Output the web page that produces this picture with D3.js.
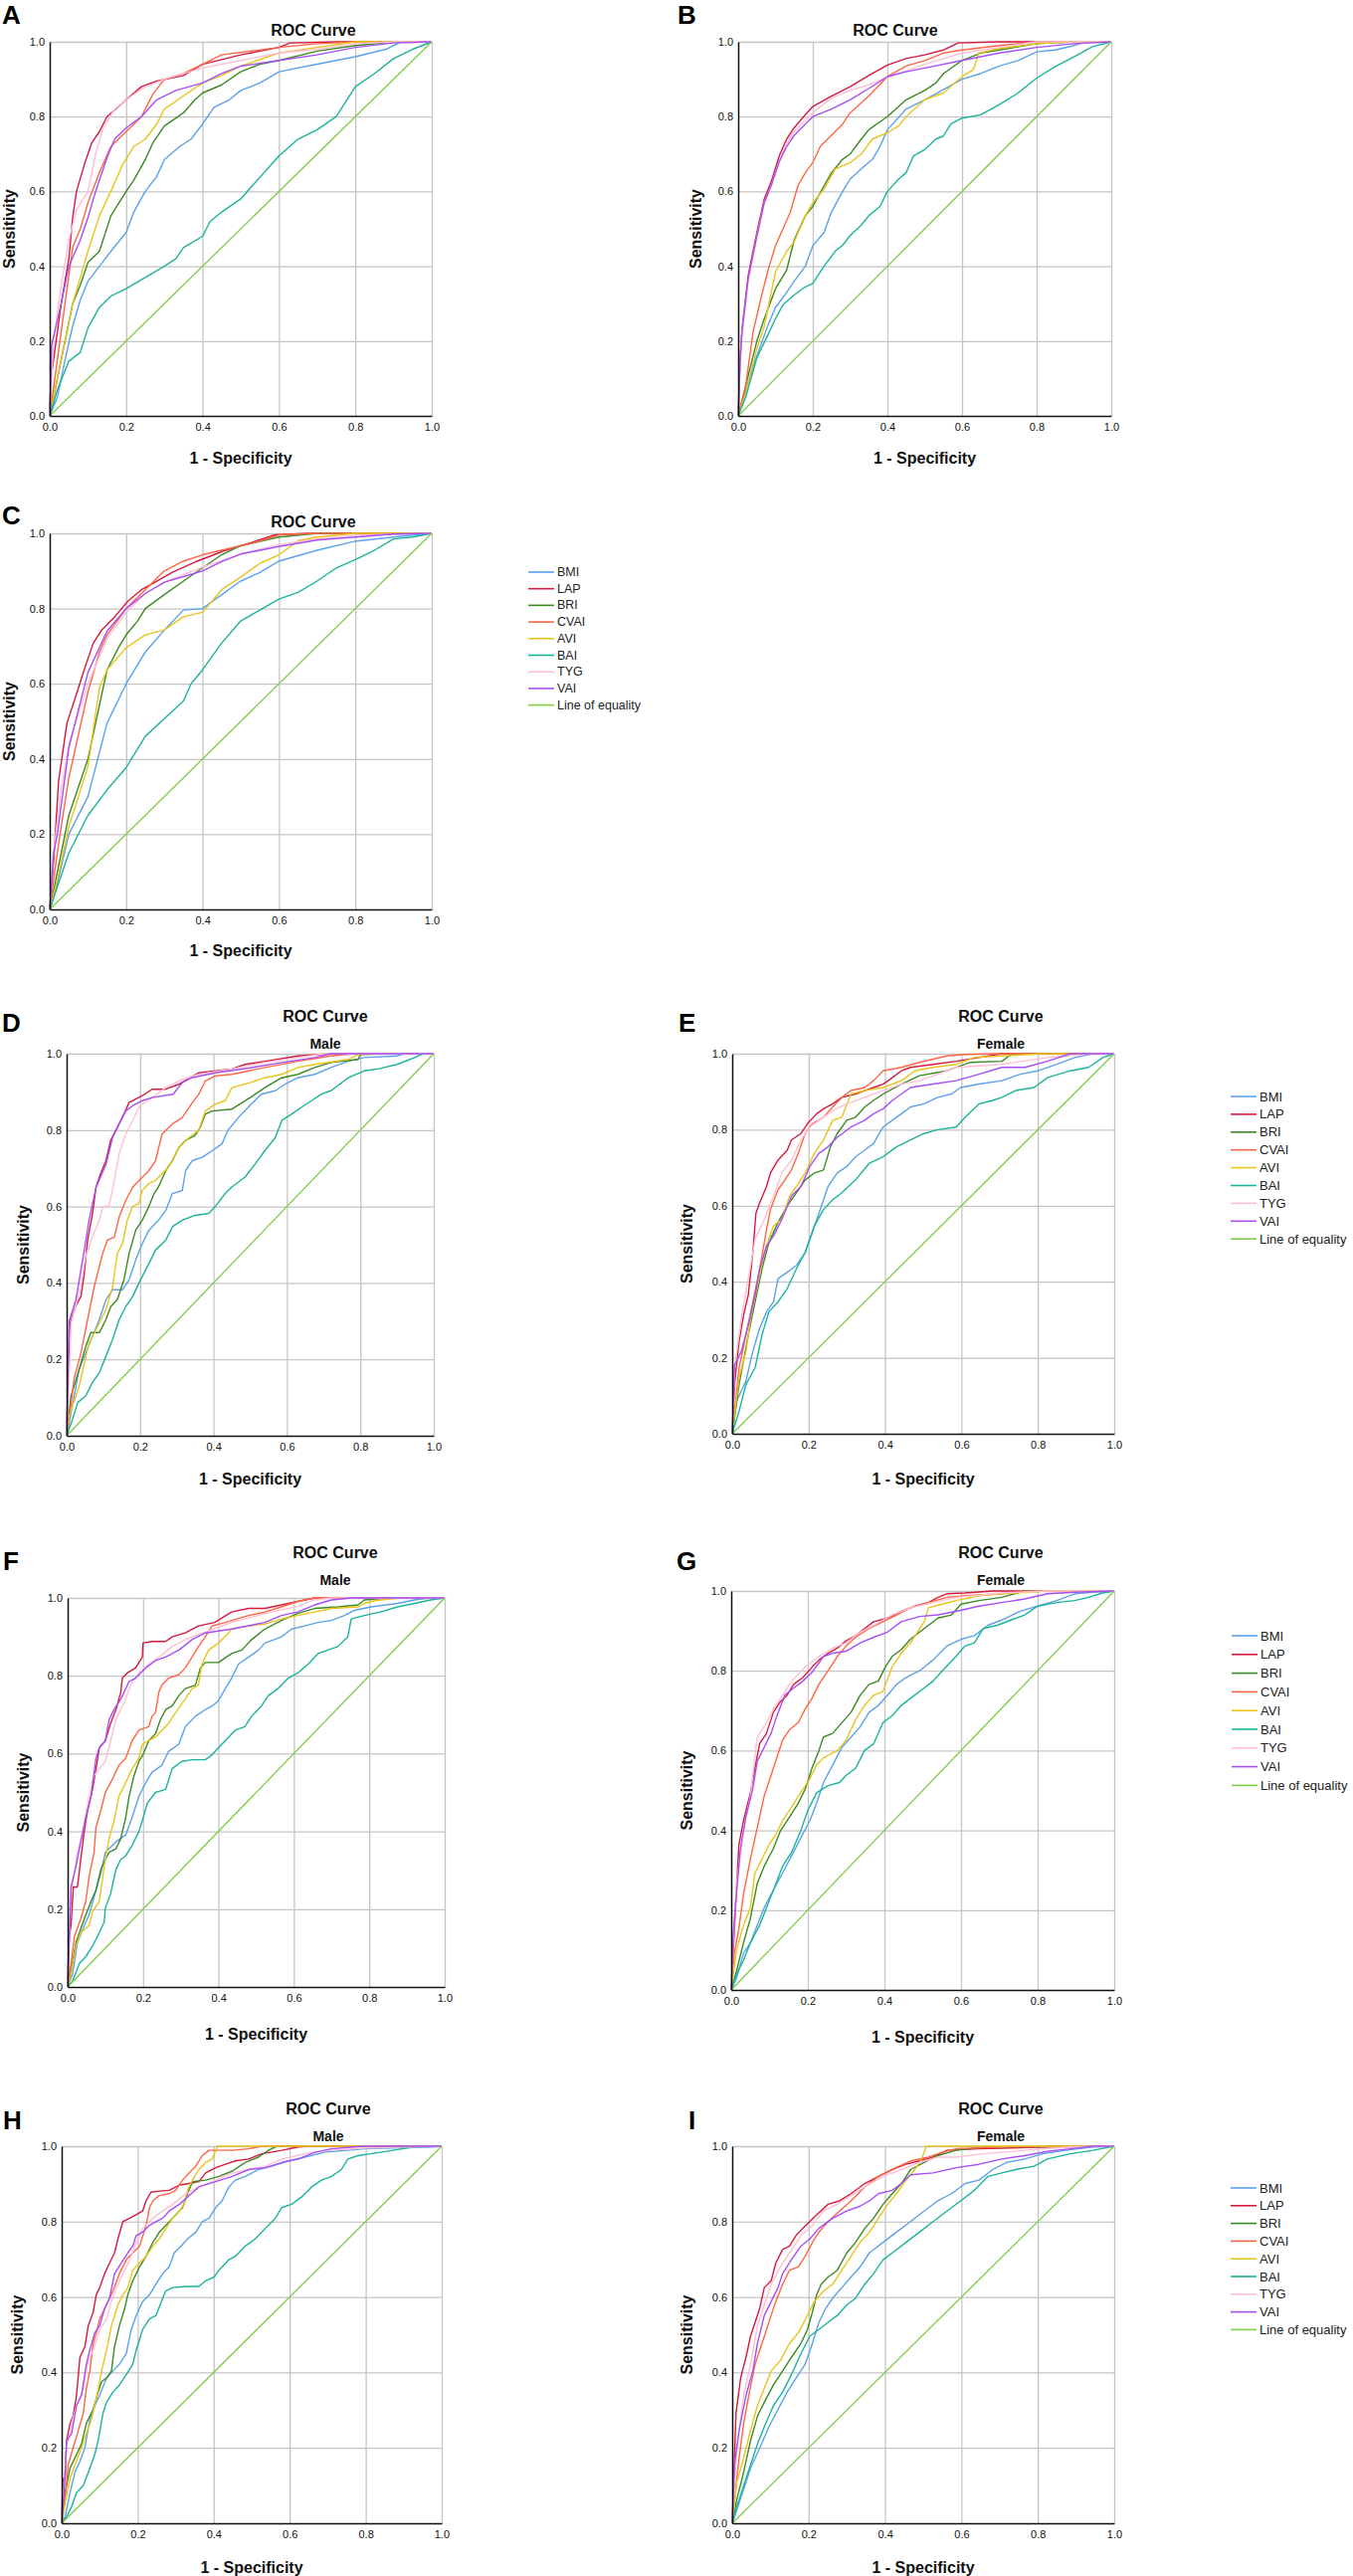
<!DOCTYPE html>
<html>
<head>
<meta charset="utf-8">
<script src="https://cdn.jsdelivr.net/npm/d3@7"></script>
<style>
body { margin: 0; background: #fff; }
svg { display: block; font-family: "Liberation Sans", Arial, sans-serif; }
</style>
</head>
<body>
<svg id="fig" width="1360" height="2589"></svg>
<script>
var seriesNames = ["BMI", "LAP", "BRI", "CVAI", "AVI", "BAI", "TYG", "VAI"];
var legendNames = ["BMI", "LAP", "BRI", "CVAI", "AVI", "BAI", "TYG", "VAI", "Line of equality"];
var tickValues = [0, 0.2, 0.4, 0.6, 0.8, 1.0];
var equality = [[0, 0], [1, 1]];

// ROC points, [1 - specificity, sensitivity]
var rocA = {
  BMI: [[0,0],[0.02,0.05],[0.04,0.15],[0.06,0.24],[0.08,0.31],[0.1,0.36],[0.13,0.4],[0.16,0.44],[0.2,0.49],[0.22,0.545],[0.25,0.6],[0.28,0.64],[0.3,0.685],[0.34,0.72],[0.37,0.74],[0.4,0.78],[0.43,0.825],[0.47,0.845],[0.5,0.87],[0.55,0.89],[0.6,0.92],[0.7,0.94],[0.8,0.96],[0.88,0.98],[0.92,1],[1,1]],
  LAP: [[0,0],[0.003,0.1],[0.01,0.15],[0.03,0.3],[0.05,0.42],[0.06,0.53],[0.07,0.6],[0.09,0.67],[0.11,0.73],[0.13,0.76],[0.15,0.8],[0.2,0.845],[0.24,0.88],[0.28,0.895],[0.35,0.91],[0.4,0.94],[0.5,0.965],[0.6,0.985],[0.63,0.997],[0.75,1],[1,1]],
  BRI: [[0,0],[0.02,0.1],[0.04,0.2],[0.06,0.3],[0.08,0.35],[0.1,0.41],[0.13,0.44],[0.16,0.535],[0.2,0.6],[0.22,0.63],[0.25,0.685],[0.27,0.73],[0.3,0.775],[0.35,0.81],[0.38,0.845],[0.4,0.863],[0.45,0.885],[0.5,0.92],[0.55,0.94],[0.6,0.95],[0.7,0.975],[0.8,0.99],[0.9,1],[1,1]],
  CVAI: [[0,0],[0.02,0.15],[0.04,0.3],[0.06,0.45],[0.08,0.5],[0.1,0.57],[0.13,0.65],[0.16,0.72],[0.2,0.76],[0.24,0.8],[0.27,0.86],[0.3,0.9],[0.35,0.915],[0.4,0.94],[0.45,0.965],[0.6,0.985],[0.7,0.995],[0.8,1],[1,1]],
  AVI: [[0,0],[0.02,0.1],[0.04,0.2],[0.06,0.3],[0.08,0.37],[0.1,0.44],[0.13,0.535],[0.16,0.6],[0.19,0.67],[0.22,0.72],[0.25,0.74],[0.28,0.78],[0.3,0.82],[0.35,0.855],[0.4,0.89],[0.45,0.91],[0.5,0.935],[0.6,0.97],[0.7,0.985],[0.8,1],[1,1]],
  BAI: [[0,0],[0.02,0.07],[0.05,0.146],[0.08,0.17],[0.1,0.235],[0.13,0.29],[0.16,0.32],[0.2,0.34],[0.25,0.37],[0.3,0.4],[0.33,0.42],[0.35,0.45],[0.4,0.48],[0.42,0.52],[0.45,0.545],[0.5,0.58],[0.53,0.615],[0.6,0.695],[0.65,0.74],[0.7,0.765],[0.75,0.8],[0.8,0.88],[0.85,0.915],[0.9,0.955],[0.95,0.98],[1,1]],
  TYG: [[0,0],[0.01,0.2],[0.03,0.35],[0.05,0.47],[0.07,0.55],[0.1,0.6],[0.12,0.7],[0.14,0.77],[0.17,0.82],[0.2,0.845],[0.25,0.88],[0.3,0.9],[0.4,0.93],[0.5,0.95],[0.6,0.97],[0.7,0.98],[0.8,0.995],[0.9,1],[1,1]],
  VAI: [[0,0],[0.005,0.19],[0.03,0.3],[0.05,0.4],[0.08,0.47],[0.1,0.53],[0.12,0.6],[0.15,0.69],[0.17,0.74],[0.2,0.77],[0.24,0.8],[0.28,0.845],[0.33,0.87],[0.4,0.89],[0.45,0.915],[0.5,0.935],[0.6,0.95],[0.7,0.965],[0.8,0.985],[0.9,0.997],[1,1]]
};

var rocB = {
  BMI: [[0,0],[0.03,0.1],[0.05,0.16],[0.08,0.243],[0.1,0.29],[0.13,0.33],[0.15,0.36],[0.18,0.4],[0.2,0.455],[0.23,0.49],[0.25,0.545],[0.28,0.6],[0.3,0.633],[0.33,0.66],[0.36,0.686],[0.38,0.72],[0.4,0.765],[0.45,0.82],[0.5,0.845],[0.55,0.872],[0.6,0.9],[0.65,0.915],[0.7,0.935],[0.75,0.95],[0.8,0.973],[0.85,0.978],[0.9,0.99],[0.93,1],[1,1]],
  LAP: [[0,0],[0.005,0.15],[0.01,0.23],[0.027,0.376],[0.05,0.49],[0.07,0.58],[0.09,0.63],[0.11,0.695],[0.13,0.74],[0.15,0.77],[0.18,0.805],[0.2,0.827],[0.25,0.855],[0.3,0.88],[0.35,0.91],[0.4,0.938],[0.45,0.955],[0.5,0.965],[0.55,0.978],[0.59,0.997],[0.7,1],[1,1]],
  BRI: [[0,0],[0.02,0.08],[0.05,0.2],[0.07,0.26],[0.1,0.34],[0.13,0.39],[0.15,0.47],[0.18,0.535],[0.2,0.56],[0.23,0.615],[0.25,0.65],[0.28,0.686],[0.3,0.7],[0.33,0.74],[0.35,0.765],[0.4,0.8],[0.45,0.845],[0.5,0.87],[0.53,0.89],[0.55,0.915],[0.6,0.95],[0.65,0.97],[0.7,0.978],[0.8,0.995],[0.9,1],[1,1]],
  CVAI: [[0,0],[0.02,0.08],[0.04,0.225],[0.06,0.31],[0.08,0.39],[0.1,0.455],[0.12,0.5],[0.14,0.545],[0.16,0.615],[0.18,0.65],[0.2,0.677],[0.22,0.72],[0.25,0.75],[0.28,0.78],[0.3,0.81],[0.35,0.855],[0.4,0.907],[0.45,0.935],[0.5,0.95],[0.55,0.97],[0.6,0.978],[0.7,0.99],[0.8,1],[1,1]],
  AVI: [[0,0],[0.02,0.06],[0.05,0.18],[0.07,0.24],[0.1,0.385],[0.13,0.44],[0.15,0.465],[0.18,0.535],[0.2,0.57],[0.23,0.606],[0.26,0.66],[0.3,0.677],[0.33,0.7],[0.36,0.74],[0.4,0.757],[0.43,0.775],[0.45,0.8],[0.5,0.845],[0.55,0.863],[0.6,0.907],[0.63,0.925],[0.645,0.97],[0.7,0.982],[0.8,0.995],[0.9,1],[1,1]],
  BAI: [[0,0],[0.02,0.05],[0.05,0.155],[0.08,0.217],[0.1,0.26],[0.12,0.297],[0.15,0.323],[0.18,0.345],[0.2,0.354],[0.23,0.4],[0.26,0.44],[0.28,0.456],[0.3,0.482],[0.33,0.51],[0.35,0.535],[0.38,0.56],[0.4,0.6],[0.43,0.633],[0.45,0.65],[0.47,0.695],[0.5,0.712],[0.53,0.74],[0.55,0.748],[0.57,0.78],[0.6,0.796],[0.65,0.805],[0.7,0.832],[0.75,0.863],[0.8,0.903],[0.85,0.934],[0.9,0.96],[0.95,0.987],[1,1]],
  TYG: [[0,0],[0.005,0.14],[0.01,0.22],[0.027,0.36],[0.05,0.48],[0.07,0.57],[0.09,0.62],[0.11,0.68],[0.13,0.73],[0.15,0.76],[0.18,0.79],[0.2,0.81],[0.25,0.85],[0.3,0.87],[0.35,0.885],[0.4,0.905],[0.5,0.94],[0.6,0.97],[0.7,0.985],[0.8,1],[1,1]],
  VAI: [[0,0],[0.005,0.14],[0.01,0.22],[0.027,0.37],[0.05,0.48],[0.07,0.57],[0.09,0.62],[0.11,0.68],[0.13,0.72],[0.15,0.75],[0.18,0.78],[0.2,0.8],[0.25,0.82],[0.3,0.845],[0.35,0.875],[0.4,0.907],[0.45,0.92],[0.5,0.93],[0.6,0.95],[0.7,0.97],[0.8,0.985],[0.9,0.995],[1,1]]
};

var rocC = {
  BMI: [[0,0],[0.02,0.07],[0.05,0.2],[0.1,0.3],[0.15,0.495],[0.2,0.6],[0.25,0.684],[0.3,0.743],[0.35,0.796],[0.4,0.8],[0.45,0.837],[0.5,0.873],[0.55,0.896],[0.6,0.926],[0.7,0.955],[0.8,0.979],[0.9,0.99],[1,1]],
  LAP: [[0,0],[0.011,0.14],[0.023,0.34],[0.045,0.495],[0.068,0.566],[0.09,0.637],[0.114,0.708],[0.136,0.743],[0.17,0.778],[0.205,0.82],[0.24,0.85],[0.27,0.867],[0.32,0.896],[0.386,0.926],[0.455,0.953],[0.52,0.973],[0.59,0.996],[0.68,1],[1,1]],
  BRI: [[0,0],[0.02,0.1],[0.05,0.25],[0.1,0.4],[0.12,0.495],[0.15,0.637],[0.18,0.696],[0.2,0.73],[0.23,0.767],[0.25,0.8],[0.3,0.837],[0.35,0.873],[0.4,0.908],[0.45,0.943],[0.5,0.967],[0.6,0.99],[0.7,1],[1,1]],
  CVAI: [[0,0],[0.01,0.08],[0.03,0.22],[0.05,0.35],[0.1,0.578],[0.13,0.684],[0.15,0.73],[0.2,0.8],[0.25,0.85],[0.3,0.9],[0.35,0.926],[0.4,0.943],[0.5,0.967],[0.55,0.979],[0.6,0.996],[0.7,1],[1,1]],
  AVI: [[0,0],[0.02,0.08],[0.05,0.22],[0.1,0.38],[0.13,0.59],[0.15,0.637],[0.2,0.696],[0.25,0.73],[0.3,0.743],[0.35,0.778],[0.4,0.79],[0.45,0.85],[0.5,0.884],[0.55,0.92],[0.6,0.943],[0.65,0.98],[0.7,0.99],[0.8,1],[1,1]],
  BAI: [[0,0],[0.02,0.06],[0.05,0.15],[0.1,0.25],[0.15,0.318],[0.2,0.377],[0.25,0.46],[0.3,0.507],[0.35,0.554],[0.37,0.6],[0.4,0.637],[0.45,0.708],[0.5,0.767],[0.55,0.796],[0.6,0.825],[0.65,0.843],[0.7,0.873],[0.75,0.908],[0.8,0.93],[0.85,0.955],[0.9,0.985],[0.95,0.99],[1,1]],
  TYG: [[0,0],[0.01,0.15],[0.03,0.32],[0.05,0.44],[0.1,0.6],[0.15,0.72],[0.2,0.79],[0.25,0.84],[0.3,0.87],[0.4,0.91],[0.5,0.945],[0.6,0.97],[0.7,0.985],[0.8,0.995],[1,1]],
  VAI: [[0,0],[0.01,0.15],[0.02,0.2],[0.05,0.43],[0.1,0.63],[0.15,0.74],[0.2,0.8],[0.25,0.84],[0.3,0.87],[0.35,0.885],[0.4,0.9],[0.45,0.925],[0.5,0.945],[0.6,0.965],[0.7,0.982],[0.8,0.99],[0.9,0.998],[1,1]]
};

var rocD = {
  BMI: [[0,0],[0.012,0.06],[0.034,0.174],[0.052,0.217],[0.07,0.26],[0.089,0.304],[0.107,0.356],[0.125,0.382],[0.152,0.382],[0.17,0.408],[0.188,0.46],[0.206,0.503],[0.224,0.538],[0.25,0.564],[0.27,0.59],[0.288,0.634],[0.315,0.642],[0.324,0.694],[0.342,0.72],[0.37,0.729],[0.396,0.746],[0.423,0.764],[0.44,0.8],[0.468,0.833],[0.495,0.86],[0.53,0.894],[0.568,0.903],[0.595,0.92],[0.63,0.937],[0.676,0.946],[0.72,0.964],[0.767,0.98],[0.81,0.99],[0.9,0.994],[0.92,1],[1,1]],
  LAP: [[0,0],[0.003,0.13],[0.009,0.295],[0.025,0.34],[0.039,0.365],[0.048,0.425],[0.057,0.512],[0.07,0.58],[0.08,0.65],[0.089,0.677],[0.107,0.72],[0.12,0.773],[0.138,0.807],[0.156,0.842],[0.17,0.872],[0.206,0.89],[0.233,0.907],[0.27,0.907],[0.306,0.92],[0.36,0.95],[0.45,0.96],[0.486,0.972],[0.54,0.98],[0.63,0.994],[0.72,1],[1,1]],
  BRI: [[0,0],[0.012,0.104],[0.034,0.174],[0.052,0.234],[0.066,0.27],[0.089,0.27],[0.107,0.304],[0.12,0.338],[0.138,0.356],[0.156,0.408],[0.17,0.477],[0.188,0.538],[0.206,0.564],[0.224,0.6],[0.238,0.634],[0.25,0.651],[0.27,0.694],[0.288,0.72],[0.306,0.755],[0.324,0.773],[0.35,0.786],[0.364,0.807],[0.378,0.842],[0.396,0.85],[0.45,0.855],[0.5,0.885],[0.54,0.911],[0.586,0.937],[0.63,0.946],[0.676,0.964],[0.72,0.977],[0.794,0.985],[0.8,0.998],[0.86,1],[1,1]],
  CVAI: [[0,0],[0.007,0.043],[0.02,0.148],[0.039,0.217],[0.057,0.304],[0.075,0.39],[0.089,0.443],[0.098,0.477],[0.111,0.512],[0.13,0.52],[0.143,0.573],[0.161,0.616],[0.18,0.651],[0.197,0.668],[0.224,0.694],[0.242,0.72],[0.26,0.79],[0.288,0.816],[0.315,0.833],[0.34,0.868],[0.36,0.894],[0.378,0.929],[0.405,0.942],[0.45,0.946],[0.54,0.964],[0.63,0.98],[0.72,0.994],[0.78,1],[1,1]],
  AVI: [[0,0],[0.007,0.052],[0.034,0.13],[0.061,0.243],[0.089,0.295],[0.107,0.33],[0.125,0.39],[0.138,0.477],[0.152,0.503],[0.165,0.564],[0.18,0.6],[0.197,0.608],[0.206,0.642],[0.224,0.66],[0.242,0.668],[0.26,0.686],[0.278,0.703],[0.306,0.755],[0.333,0.78],[0.36,0.8],[0.378,0.85],[0.405,0.868],[0.432,0.877],[0.45,0.911],[0.5,0.924],[0.54,0.937],[0.586,0.946],[0.63,0.964],[0.676,0.972],[0.767,0.985],[0.794,0.998],[0.87,1],[1,1]],
  BAI: [[0,0],[0.016,0.043],[0.03,0.087],[0.052,0.104],[0.07,0.139],[0.089,0.165],[0.107,0.208],[0.125,0.252],[0.143,0.304],[0.161,0.338],[0.18,0.365],[0.197,0.4],[0.224,0.451],[0.242,0.486],[0.27,0.512],[0.288,0.547],[0.315,0.564],[0.35,0.577],[0.387,0.582],[0.405,0.6],[0.432,0.634],[0.45,0.651],[0.486,0.677],[0.514,0.712],[0.54,0.746],[0.568,0.78],[0.586,0.825],[0.613,0.842],[0.64,0.86],[0.667,0.877],[0.694,0.894],[0.72,0.903],[0.767,0.937],[0.81,0.955],[0.848,0.96],[0.9,0.972],[0.948,0.99],[0.97,1],[1,1]],
  TYG: [[0,0],[0.005,0.12],[0.012,0.295],[0.034,0.373],[0.052,0.47],[0.07,0.52],[0.089,0.564],[0.098,0.6],[0.116,0.603],[0.13,0.668],[0.143,0.738],[0.161,0.79],[0.18,0.825],[0.197,0.86],[0.233,0.885],[0.27,0.911],[0.306,0.929],[0.36,0.946],[0.45,0.96],[0.54,0.977],[0.63,0.99],[0.7,1],[1,1]],
  VAI: [[0,0],[0.003,0.13],[0.007,0.3],[0.025,0.355],[0.048,0.486],[0.061,0.564],[0.08,0.65],[0.107,0.71],[0.125,0.78],[0.143,0.816],[0.161,0.85],[0.18,0.864],[0.206,0.877],[0.233,0.885],[0.29,0.894],[0.315,0.924],[0.34,0.937],[0.405,0.95],[0.5,0.963],[0.586,0.977],[0.676,0.99],[0.72,1],[1,1]]
};

var rocE = {
  BMI: [[0,0],[0.012,0.087],[0.036,0.139],[0.054,0.217],[0.072,0.278],[0.09,0.321],[0.108,0.347],[0.12,0.408],[0.144,0.425],[0.168,0.443],[0.191,0.477],[0.21,0.53],[0.227,0.58],[0.251,0.651],[0.275,0.686],[0.3,0.703],[0.323,0.729],[0.347,0.746],[0.37,0.764],[0.395,0.807],[0.419,0.825],[0.443,0.842],[0.467,0.86],[0.502,0.868],[0.538,0.885],[0.574,0.894],[0.598,0.911],[0.646,0.92],[0.706,0.929],[0.754,0.946],[0.8,0.955],[0.85,0.972],[0.897,0.99],[0.945,1],[1,1]],
  LAP: [[0,0],[0.006,0.13],[0.018,0.243],[0.03,0.313],[0.042,0.365],[0.054,0.477],[0.062,0.58],[0.072,0.608],[0.09,0.651],[0.1,0.686],[0.12,0.72],[0.144,0.746],[0.155,0.773],[0.18,0.79],[0.197,0.816],[0.221,0.842],[0.239,0.855],[0.263,0.868],[0.287,0.885],[0.323,0.894],[0.347,0.903],[0.37,0.911],[0.395,0.92],[0.419,0.937],[0.443,0.955],[0.467,0.964],[0.526,0.972],[0.586,0.98],[0.646,0.99],[0.706,1],[1,1]],
  BRI: [[0,0],[0.018,0.13],[0.042,0.26],[0.06,0.347],[0.078,0.434],[0.096,0.503],[0.12,0.556],[0.144,0.6],[0.168,0.634],[0.191,0.668],[0.215,0.686],[0.239,0.694],[0.257,0.755],[0.275,0.79],[0.3,0.825],[0.323,0.833],[0.347,0.86],[0.37,0.877],[0.395,0.894],[0.443,0.92],[0.49,0.942],[0.562,0.955],[0.622,0.977],[0.706,0.98],[0.73,0.998],[0.77,1],[1,1]],
  CVAI: [[0,0],[0.018,0.174],[0.036,0.26],[0.054,0.347],[0.072,0.434],[0.09,0.538],[0.1,0.59],[0.12,0.642],[0.138,0.668],[0.155,0.694],[0.173,0.738],[0.191,0.79],[0.21,0.816],[0.239,0.833],[0.263,0.86],[0.287,0.885],[0.311,0.903],[0.347,0.911],[0.37,0.929],[0.395,0.955],[0.443,0.964],[0.49,0.977],[0.562,0.994],[0.61,0.998],[0.7,1],[1,1]],
  AVI: [[0,0],[0.018,0.148],[0.036,0.217],[0.048,0.304],[0.066,0.39],[0.084,0.477],[0.108,0.547],[0.13,0.564],[0.15,0.625],[0.168,0.651],[0.191,0.686],[0.215,0.738],[0.239,0.773],[0.263,0.825],[0.287,0.833],[0.311,0.894],[0.347,0.903],[0.395,0.911],[0.443,0.929],[0.478,0.955],[0.526,0.964],[0.586,0.972],[0.634,0.99],[0.706,0.994],[0.813,1],[1,1]],
  BAI: [[0,0],[0.018,0.06],[0.036,0.13],[0.06,0.174],[0.078,0.26],[0.096,0.321],[0.12,0.347],[0.144,0.382],[0.168,0.434],[0.191,0.477],[0.215,0.547],[0.239,0.59],[0.263,0.616],[0.287,0.634],[0.323,0.668],[0.359,0.712],[0.395,0.729],[0.43,0.755],[0.467,0.773],[0.502,0.79],[0.538,0.8],[0.586,0.807],[0.61,0.833],[0.646,0.868],[0.682,0.877],[0.706,0.885],[0.742,0.903],[0.79,0.911],[0.825,0.937],[0.885,0.955],[0.933,0.964],[0.97,0.99],[1,1]],
  TYG: [[0,0],[0.006,0.174],[0.024,0.304],[0.06,0.512],[0.084,0.564],[0.108,0.625],[0.13,0.686],[0.155,0.72],[0.18,0.773],[0.203,0.807],[0.227,0.825],[0.263,0.85],[0.3,0.868],[0.347,0.885],[0.395,0.903],[0.443,0.92],[0.49,0.929],[0.538,0.946],[0.586,0.964],[0.706,0.972],[0.825,0.99],[0.945,1],[1,1]],
  VAI: [[0,0],[0.006,0.18],[0.024,0.217],[0.042,0.286],[0.06,0.365],[0.072,0.434],[0.09,0.495],[0.108,0.52],[0.13,0.564],[0.155,0.625],[0.18,0.651],[0.203,0.703],[0.227,0.738],[0.251,0.755],[0.275,0.78],[0.311,0.807],[0.347,0.825],[0.37,0.842],[0.395,0.855],[0.419,0.877],[0.443,0.894],[0.467,0.911],[0.526,0.92],[0.586,0.929],[0.646,0.946],[0.706,0.964],[0.766,0.964],[0.825,0.98],[0.885,1],[1,1]]
};

var rocF = {
  BMI: [[0,0],[0.013,0.033],[0.026,0.114],[0.044,0.158],[0.057,0.185],[0.075,0.248],[0.088,0.293],[0.1,0.346],[0.128,0.373],[0.154,0.391],[0.171,0.436],[0.189,0.49],[0.207,0.525],[0.224,0.552],[0.25,0.57],[0.268,0.606],[0.295,0.624],[0.312,0.669],[0.339,0.696],[0.365,0.713],[0.383,0.722],[0.4,0.736],[0.418,0.767],[0.435,0.794],[0.453,0.83],[0.48,0.848],[0.506,0.866],[0.523,0.884],[0.567,0.9],[0.594,0.92],[0.629,0.928],[0.664,0.937],[0.7,0.942],[0.734,0.955],[0.76,0.968],[0.805,0.977],[0.875,0.986],[0.92,0.995],[0.96,1],[1,1]],
  LAP: [[0,0],[0.003,0.123],[0.009,0.158],[0.015,0.257],[0.026,0.257],[0.035,0.33],[0.044,0.4],[0.053,0.454],[0.066,0.508],[0.075,0.56],[0.084,0.615],[0.1,0.633],[0.114,0.678],[0.128,0.713],[0.141,0.758],[0.145,0.794],[0.158,0.807],[0.18,0.82],[0.198,0.848],[0.2,0.884],[0.224,0.888],[0.26,0.888],[0.277,0.9],[0.312,0.91],[0.347,0.928],[0.39,0.937],[0.435,0.964],[0.48,0.973],[0.523,0.973],[0.567,0.982],[0.61,0.991],[0.655,1],[1,1]],
  BRI: [[0,0],[0.009,0.042],[0.022,0.114],[0.035,0.15],[0.048,0.185],[0.062,0.22],[0.075,0.248],[0.088,0.302],[0.1,0.328],[0.11,0.346],[0.128,0.355],[0.141,0.382],[0.154,0.436],[0.163,0.49],[0.176,0.543],[0.189,0.58],[0.2,0.597],[0.215,0.633],[0.233,0.651],[0.246,0.687],[0.26,0.713],[0.277,0.722],[0.295,0.749],[0.312,0.767],[0.339,0.776],[0.352,0.82],[0.365,0.834],[0.4,0.834],[0.435,0.857],[0.462,0.866],[0.488,0.893],[0.523,0.92],[0.567,0.942],[0.61,0.96],[0.655,0.973],[0.717,0.977],[0.77,0.982],[0.787,0.995],[0.85,1],[1,1]],
  CVAI: [[0,0],[0.009,0.06],[0.018,0.13],[0.035,0.176],[0.048,0.22],[0.057,0.284],[0.07,0.346],[0.075,0.41],[0.088,0.454],[0.1,0.5],[0.119,0.535],[0.136,0.57],[0.154,0.588],[0.171,0.633],[0.189,0.66],[0.215,0.669],[0.224,0.696],[0.233,0.705],[0.242,0.758],[0.25,0.776],[0.268,0.794],[0.295,0.803],[0.312,0.82],[0.33,0.848],[0.347,0.875],[0.365,0.9],[0.383,0.928],[0.418,0.937],[0.48,0.955],[0.523,0.964],[0.567,0.977],[0.61,0.991],[0.655,1],[1,1]],
  AVI: [[0,0],[0.009,0.033],[0.022,0.105],[0.035,0.14],[0.057,0.158],[0.066,0.194],[0.084,0.22],[0.097,0.31],[0.11,0.382],[0.123,0.427],[0.136,0.49],[0.154,0.525],[0.171,0.561],[0.189,0.588],[0.198,0.624],[0.215,0.633],[0.233,0.642],[0.25,0.66],[0.268,0.678],[0.286,0.705],[0.312,0.74],[0.33,0.767],[0.347,0.776],[0.356,0.83],[0.374,0.866],[0.4,0.884],[0.427,0.91],[0.435,0.92],[0.48,0.928],[0.523,0.933],[0.567,0.946],[0.61,0.955],[0.655,0.964],[0.7,0.973],[0.77,0.977],[0.787,0.986],[0.814,0.993],[0.88,1],[1,1]],
  BAI: [[0,0],[0.013,0.015],[0.031,0.06],[0.048,0.078],[0.066,0.105],[0.084,0.14],[0.097,0.167],[0.1,0.203],[0.114,0.24],[0.128,0.302],[0.141,0.328],[0.154,0.337],[0.171,0.364],[0.189,0.4],[0.198,0.427],[0.211,0.472],[0.233,0.5],[0.26,0.508],[0.277,0.561],[0.303,0.58],[0.33,0.584],[0.365,0.584],[0.383,0.597],[0.409,0.624],[0.427,0.642],[0.444,0.66],[0.47,0.669],[0.488,0.696],[0.514,0.722],[0.532,0.749],[0.558,0.767],[0.585,0.794],[0.61,0.807],[0.638,0.83],[0.664,0.857],[0.69,0.866],[0.717,0.875],[0.743,0.9],[0.752,0.946],[0.787,0.955],[0.83,0.964],[0.875,0.977],[0.92,0.986],[0.963,0.995],[1,1]],
  TYG: [[0,0],[0.009,0.24],[0.026,0.346],[0.044,0.418],[0.057,0.49],[0.07,0.543],[0.084,0.561],[0.1,0.58],[0.114,0.633],[0.128,0.687],[0.15,0.731],[0.167,0.776],[0.189,0.807],[0.215,0.83],[0.242,0.848],[0.277,0.875],[0.312,0.893],[0.347,0.906],[0.435,0.937],[0.523,0.96],[0.61,0.978],[0.655,0.995],[0.7,1],[1,1]],
  VAI: [[0,0],[0.003,0.087],[0.009,0.257],[0.022,0.31],[0.035,0.373],[0.048,0.436],[0.062,0.49],[0.075,0.588],[0.084,0.615],[0.1,0.633],[0.11,0.687],[0.123,0.713],[0.141,0.74],[0.163,0.785],[0.18,0.794],[0.207,0.82],[0.233,0.839],[0.26,0.848],[0.295,0.866],[0.33,0.893],[0.365,0.91],[0.435,0.92],[0.523,0.937],[0.567,0.955],[0.61,0.964],[0.655,0.982],[0.7,0.995],[0.752,1],[1,1]]
};

var rocG = {
  BMI: [[0,0],[0.014,0.03],[0.032,0.092],[0.05,0.118],[0.068,0.162],[0.086,0.206],[0.11,0.25],[0.134,0.293],[0.158,0.337],[0.181,0.38],[0.205,0.424],[0.223,0.468],[0.241,0.52],[0.265,0.564],[0.289,0.608],[0.313,0.634],[0.337,0.66],[0.36,0.696],[0.384,0.713],[0.408,0.739],[0.432,0.766],[0.456,0.783],[0.492,0.8],[0.527,0.827],[0.563,0.862],[0.6,0.879],[0.635,0.888],[0.67,0.914],[0.706,0.927],[0.754,0.949],[0.8,0.962],[0.85,0.976],[0.897,0.993],[0.945,0.997],[1,1]],
  LAP: [[0,0],[0.005,0.092],[0.012,0.223],[0.02,0.363],[0.032,0.424],[0.05,0.494],[0.062,0.556],[0.074,0.617],[0.092,0.643],[0.11,0.696],[0.128,0.722],[0.146,0.739],[0.163,0.766],[0.187,0.783],[0.211,0.809],[0.229,0.827],[0.253,0.844],[0.277,0.857],[0.3,0.875],[0.325,0.888],[0.348,0.906],[0.372,0.923],[0.408,0.932],[0.444,0.949],[0.48,0.962],[0.515,0.971],[0.54,0.984],[0.563,0.993],[0.61,0.995],[0.683,1],[1,1]],
  BRI: [[0,0],[0.014,0.048],[0.032,0.118],[0.05,0.179],[0.068,0.267],[0.086,0.31],[0.11,0.354],[0.128,0.398],[0.152,0.433],[0.175,0.468],[0.193,0.503],[0.211,0.556],[0.229,0.6],[0.241,0.634],[0.265,0.643],[0.289,0.67],[0.313,0.696],[0.337,0.739],[0.36,0.766],[0.384,0.774],[0.402,0.809],[0.42,0.836],[0.444,0.853],[0.468,0.879],[0.492,0.897],[0.515,0.914],[0.54,0.932],[0.575,0.94],[0.6,0.967],[0.647,0.976],[0.706,0.984],[0.766,1],[1,1]],
  CVAI: [[0,0],[0.008,0.092],[0.02,0.153],[0.032,0.24],[0.05,0.328],[0.068,0.407],[0.086,0.486],[0.104,0.538],[0.116,0.573],[0.134,0.626],[0.152,0.652],[0.175,0.67],[0.193,0.704],[0.211,0.731],[0.229,0.766],[0.253,0.8],[0.277,0.836],[0.3,0.862],[0.325,0.884],[0.36,0.906],[0.396,0.923],[0.432,0.94],[0.468,0.958],[0.515,0.971],[0.563,0.984],[0.61,0.988],[0.706,0.993],[0.778,1],[1,1]],
  AVI: [[0,0],[0.014,0.1],[0.032,0.162],[0.05,0.206],[0.062,0.293],[0.08,0.328],[0.098,0.363],[0.116,0.389],[0.134,0.424],[0.158,0.459],[0.181,0.494],[0.205,0.529],[0.223,0.564],[0.241,0.582],[0.277,0.6],[0.3,0.626],[0.325,0.678],[0.348,0.713],[0.372,0.739],[0.396,0.748],[0.42,0.809],[0.444,0.844],[0.468,0.87],[0.504,0.923],[0.515,0.958],[0.551,0.967],[0.587,0.976],[0.647,0.988],[0.706,0.993],[0.826,1],[1,1]],
  BAI: [[0,0],[0.014,0.04],[0.032,0.074],[0.05,0.118],[0.074,0.162],[0.092,0.206],[0.11,0.25],[0.134,0.31],[0.158,0.346],[0.181,0.398],[0.2,0.45],[0.223,0.494],[0.253,0.512],[0.283,0.52],[0.3,0.538],[0.325,0.556],[0.348,0.6],[0.372,0.617],[0.396,0.67],[0.42,0.687],[0.444,0.713],[0.468,0.731],[0.504,0.757],[0.527,0.774],[0.551,0.8],[0.587,0.836],[0.61,0.862],[0.635,0.87],[0.658,0.906],[0.695,0.914],[0.73,0.927],[0.766,0.94],[0.8,0.962],[0.85,0.971],[0.897,0.976],[0.933,0.984],[0.97,0.995],[1,1]],
  TYG: [[0,0],[0.005,0.12],[0.014,0.267],[0.032,0.398],[0.05,0.486],[0.068,0.634],[0.092,0.67],[0.11,0.704],[0.134,0.739],[0.158,0.774],[0.193,0.81],[0.229,0.836],[0.265,0.857],[0.3,0.87],[0.337,0.897],[0.372,0.914],[0.42,0.94],[0.468,0.958],[0.527,0.971],[0.587,0.984],[0.706,0.995],[0.826,1],[1,1]],
  VAI: [[0,0],[0.005,0.136],[0.012,0.223],[0.024,0.354],[0.038,0.433],[0.056,0.503],[0.068,0.573],[0.086,0.608],[0.104,0.643],[0.116,0.678],[0.14,0.739],[0.163,0.757],[0.187,0.774],[0.211,0.796],[0.241,0.836],[0.265,0.844],[0.3,0.849],[0.337,0.87],[0.372,0.884],[0.408,0.897],[0.444,0.923],[0.492,0.936],[0.54,0.94],[0.587,0.949],[0.647,0.962],[0.706,0.971],[0.766,0.98],[0.826,0.993],[0.897,0.997],[1,1]]
};

var rocH = {
  BMI: [[0,0],[0.009,0.017],[0.022,0.081],[0.035,0.136],[0.048,0.164],[0.061,0.2],[0.074,0.275],[0.087,0.312],[0.1,0.339],[0.118,0.385],[0.135,0.404],[0.152,0.422],[0.17,0.45],[0.183,0.514],[0.196,0.551],[0.213,0.588],[0.231,0.606],[0.248,0.634],[0.266,0.662],[0.283,0.68],[0.296,0.717],[0.314,0.735],[0.331,0.754],[0.353,0.772],[0.37,0.8],[0.388,0.809],[0.405,0.837],[0.422,0.855],[0.44,0.892],[0.457,0.91],[0.483,0.92],[0.518,0.938],[0.553,0.947],[0.597,0.961],[0.64,0.971],[0.692,0.984],[0.797,0.993],[0.971,0.998],[1,1]],
  LAP: [[0,0],[0.003,0.118],[0.009,0.118],[0.013,0.219],[0.022,0.265],[0.03,0.284],[0.039,0.339],[0.048,0.44],[0.061,0.468],[0.07,0.524],[0.083,0.56],[0.091,0.606],[0.1,0.625],[0.113,0.662],[0.126,0.69],[0.139,0.717],[0.148,0.754],[0.161,0.8],[0.179,0.809],[0.196,0.818],[0.213,0.828],[0.222,0.855],[0.235,0.878],[0.257,0.881],[0.283,0.883],[0.31,0.897],[0.335,0.901],[0.361,0.906],[0.379,0.929],[0.405,0.943],[0.431,0.952],[0.457,0.961],[0.492,0.966],[0.527,0.98],[0.58,0.989],[0.623,0.998],[0.65,1],[1,1]],
  BRI: [[0,0],[0.009,0.081],[0.022,0.146],[0.039,0.182],[0.052,0.21],[0.065,0.265],[0.083,0.302],[0.096,0.348],[0.105,0.376],[0.118,0.385],[0.131,0.404],[0.139,0.468],[0.152,0.524],[0.166,0.57],[0.174,0.606],[0.187,0.643],[0.205,0.68],[0.222,0.708],[0.24,0.745],[0.257,0.772],[0.274,0.79],[0.292,0.809],[0.318,0.837],[0.335,0.883],[0.344,0.906],[0.379,0.91],[0.414,0.92],[0.449,0.934],[0.483,0.957],[0.518,0.971],[0.544,0.989],[0.566,1],[1,1]],
  CVAI: [[0,0],[0.009,0.063],[0.017,0.155],[0.03,0.2],[0.044,0.247],[0.057,0.293],[0.065,0.358],[0.074,0.404],[0.083,0.477],[0.091,0.505],[0.1,0.542],[0.118,0.579],[0.135,0.616],[0.152,0.662],[0.17,0.699],[0.187,0.717],[0.205,0.735],[0.222,0.79],[0.231,0.837],[0.24,0.855],[0.257,0.869],[0.283,0.874],[0.3,0.883],[0.318,0.91],[0.335,0.929],[0.353,0.947],[0.37,0.975],[0.388,0.989],[0.449,0.989],[0.492,0.993],[0.527,1],[1,1]],
  AVI: [[0,0],[0.009,0.053],[0.022,0.118],[0.035,0.155],[0.052,0.2],[0.065,0.238],[0.078,0.275],[0.091,0.33],[0.105,0.404],[0.118,0.459],[0.131,0.524],[0.148,0.579],[0.161,0.606],[0.174,0.625],[0.187,0.671],[0.205,0.69],[0.222,0.708],[0.24,0.735],[0.257,0.754],[0.274,0.782],[0.292,0.809],[0.31,0.828],[0.322,0.846],[0.331,0.883],[0.344,0.91],[0.361,0.938],[0.379,0.957],[0.396,0.966],[0.41,1],[1,1]],
  BAI: [[0,0],[0.013,0.017],[0.026,0.044],[0.039,0.081],[0.057,0.1],[0.074,0.146],[0.087,0.182],[0.096,0.219],[0.109,0.293],[0.118,0.321],[0.135,0.348],[0.152,0.367],[0.17,0.394],[0.187,0.422],[0.196,0.459],[0.213,0.514],[0.231,0.542],[0.248,0.551],[0.266,0.597],[0.274,0.616],[0.292,0.625],[0.327,0.628],[0.361,0.628],[0.379,0.643],[0.401,0.653],[0.414,0.671],[0.44,0.699],[0.457,0.708],[0.483,0.735],[0.509,0.754],[0.536,0.782],[0.562,0.809],[0.579,0.837],[0.605,0.846],[0.631,0.865],[0.658,0.892],[0.684,0.91],[0.71,0.92],[0.736,0.938],[0.753,0.966],[0.78,0.975],[0.814,0.98],[0.884,0.991],[0.928,0.998],[1,1]],
  TYG: [[0,0],[0.013,0.2],[0.026,0.265],[0.039,0.312],[0.057,0.358],[0.07,0.431],[0.083,0.459],[0.1,0.514],[0.118,0.542],[0.131,0.588],[0.144,0.625],[0.161,0.662],[0.179,0.699],[0.196,0.745],[0.213,0.782],[0.24,0.809],[0.266,0.828],[0.292,0.846],[0.327,0.874],[0.361,0.892],[0.405,0.91],[0.449,0.929],[0.492,0.938],[0.536,0.947],[0.58,0.966],[0.64,0.98],[0.71,0.989],[0.797,0.995],[1,1]],
  VAI: [[0,0],[0.007,0.09],[0.013,0.219],[0.026,0.238],[0.039,0.312],[0.052,0.339],[0.065,0.422],[0.074,0.459],[0.087,0.505],[0.1,0.524],[0.113,0.57],[0.126,0.597],[0.139,0.662],[0.157,0.69],[0.174,0.717],[0.187,0.735],[0.196,0.763],[0.213,0.772],[0.231,0.79],[0.248,0.8],[0.266,0.809],[0.283,0.828],[0.31,0.846],[0.335,0.869],[0.361,0.892],[0.405,0.906],[0.449,0.92],[0.492,0.938],[0.536,0.943],[0.58,0.957],[0.623,0.966],[0.666,0.984],[0.71,0.993],[0.797,1],[1,1]]
};

var rocI = {
  BMI: [[0,0],[0.012,0.035],[0.03,0.09],[0.048,0.146],[0.072,0.2],[0.096,0.256],[0.12,0.302],[0.144,0.348],[0.167,0.385],[0.191,0.422],[0.21,0.477],[0.227,0.533],[0.245,0.57],[0.263,0.597],[0.287,0.625],[0.311,0.653],[0.335,0.68],[0.359,0.717],[0.395,0.745],[0.43,0.772],[0.467,0.8],[0.502,0.828],[0.538,0.855],[0.574,0.874],[0.61,0.901],[0.646,0.91],[0.682,0.938],[0.718,0.957],[0.766,0.966],[0.813,0.98],[0.873,0.989],[0.945,0.998],[1,1]],
  LAP: [[0,0],[0.002,0.063],[0.01,0.293],[0.022,0.385],[0.036,0.44],[0.048,0.496],[0.06,0.533],[0.072,0.57],[0.084,0.625],[0.102,0.643],[0.114,0.69],[0.132,0.726],[0.15,0.735],[0.167,0.763],[0.185,0.782],[0.203,0.8],[0.221,0.818],[0.251,0.846],[0.281,0.855],[0.311,0.874],[0.347,0.901],[0.383,0.92],[0.419,0.938],[0.455,0.952],[0.49,0.961],[0.526,0.971],[0.562,0.989],[0.646,0.993],[0.825,0.998],[1,1]],
  BRI: [[0,0],[0.012,0.063],[0.03,0.136],[0.048,0.219],[0.066,0.284],[0.084,0.321],[0.108,0.367],[0.132,0.404],[0.155,0.44],[0.18,0.477],[0.197,0.514],[0.21,0.56],[0.221,0.606],[0.233,0.634],[0.251,0.653],[0.275,0.671],[0.3,0.717],[0.323,0.745],[0.347,0.782],[0.37,0.809],[0.395,0.846],[0.419,0.874],[0.443,0.901],[0.467,0.938],[0.502,0.957],[0.538,0.975],[0.586,0.989],[0.658,0.998],[1,1]],
  CVAI: [[0,0],[0.006,0.063],[0.018,0.173],[0.03,0.265],[0.045,0.348],[0.06,0.422],[0.078,0.477],[0.096,0.533],[0.114,0.588],[0.132,0.634],[0.15,0.671],[0.173,0.68],[0.191,0.708],[0.21,0.745],[0.227,0.772],[0.251,0.8],[0.281,0.828],[0.311,0.855],[0.347,0.892],[0.383,0.92],[0.419,0.938],[0.467,0.961],[0.514,0.971],[0.55,0.984],[0.586,0.993],[0.706,0.998],[0.85,1],[1,1]],
  AVI: [[0,0],[0.012,0.109],[0.03,0.173],[0.048,0.247],[0.066,0.312],[0.084,0.358],[0.102,0.404],[0.126,0.431],[0.15,0.477],[0.173,0.505],[0.197,0.551],[0.215,0.588],[0.239,0.616],[0.263,0.634],[0.287,0.671],[0.311,0.708],[0.335,0.745],[0.359,0.772],[0.383,0.809],[0.407,0.846],[0.43,0.874],[0.455,0.91],[0.478,0.938],[0.496,0.966],[0.508,1],[1,1]],
  BAI: [[0,0],[0.012,0.044],[0.03,0.1],[0.048,0.155],[0.066,0.21],[0.084,0.256],[0.108,0.312],[0.132,0.348],[0.155,0.394],[0.18,0.45],[0.203,0.496],[0.227,0.514],[0.251,0.533],[0.275,0.551],[0.3,0.579],[0.323,0.597],[0.347,0.634],[0.37,0.662],[0.395,0.699],[0.419,0.717],[0.455,0.745],[0.49,0.772],[0.526,0.8],[0.562,0.828],[0.598,0.855],[0.634,0.883],[0.67,0.92],[0.706,0.929],[0.742,0.938],[0.79,0.947],[0.825,0.966],[0.885,0.98],[0.945,0.989],[1,1]],
  TYG: [[0,0],[0.012,0.2],[0.03,0.339],[0.048,0.422],[0.066,0.524],[0.084,0.579],[0.102,0.634],[0.126,0.68],[0.15,0.717],[0.18,0.763],[0.21,0.79],[0.239,0.828],[0.275,0.846],[0.311,0.869],[0.347,0.892],[0.395,0.92],[0.443,0.938],[0.49,0.957],[0.538,0.971],[0.586,0.971],[0.658,0.98],[0.766,0.989],[0.885,0.998],[1,1]],
  VAI: [[0,0],[0.006,0.155],[0.018,0.247],[0.036,0.339],[0.054,0.404],[0.066,0.477],[0.084,0.551],[0.102,0.588],[0.12,0.625],[0.132,0.662],[0.155,0.699],[0.18,0.735],[0.203,0.754],[0.227,0.782],[0.263,0.809],[0.3,0.828],[0.335,0.841],[0.359,0.855],[0.383,0.874],[0.419,0.883],[0.443,0.901],[0.467,0.924],[0.526,0.929],[0.586,0.943],[0.646,0.952],[0.706,0.966],[0.766,0.975],[0.825,0.986],[0.885,0.993],[0.945,1],[1,1]]
};

var colors = {
  "BMI": "#5ba2ea",
  "LAP": "#d41a3f",
  "BRI": "#3b8a24",
  "CVAI": "#ff6545",
  "AVI": "#e9c41c",
  "BAI": "#1cb39b",
  "TYG": "#ffbfd4",
  "VAI": "#a64ff5",
  "Line of equality": "#7fcc46"
};

// layout of each panel: plot box [left, right, top, bottom] in pixels
var panels = [
  { letter: "A", roc: rocA, sub: "", box: [50, 434, 42, 418], titleX: 315, titleY: 36, letterX: 2, letterY: 24, sensX: 9, specY: 466, legend: null },
  { letter: "B", roc: rocB, sub: "", box: [742, 1117, 42, 418], titleX: 900, titleY: 36, letterX: 681, letterY: 24, sensX: 699, specY: 466, legend: null },
  { letter: "C", roc: rocC, sub: "", box: [50, 434, 536, 914], titleX: 315, titleY: 530, letterX: 2, letterY: 527, sensX: 9, specY: 961, legend: { x: 531, y: 575, step: 16.7, size: 12.5 } },
  { letter: "D", roc: rocD, sub: "Male", box: [67, 436, 1059, 1443], titleX: 327, titleY: 1027, letterX: 2, letterY: 1037, sensX: 23, specY: 1492, legend: null },
  { letter: "E", roc: rocE, sub: "Female", box: [736, 1120, 1059, 1441], titleX: 1006, titleY: 1027, letterX: 682, letterY: 1037, sensX: 690, specY: 1492, legend: { x: 1237, y: 1102, step: 17.9, size: 13 } },
  { letter: "F", roc: rocF, sub: "Male", box: [68, 447, 1606, 1997], titleX: 337, titleY: 1566, letterX: 3, letterY: 1578, sensX: 23, specY: 2050, legend: null },
  { letter: "G", roc: rocG, sub: "Female", box: [735, 1120, 1599, 2000], titleX: 1006, titleY: 1566, letterX: 680, letterY: 1578, sensX: 690, specY: 2053, legend: { x: 1238, y: 1644, step: 18.8, size: 13 } },
  { letter: "H", roc: rocH, sub: "Male", box: [62, 444, 2157, 2536], titleX: 330, titleY: 2125, letterX: 3, letterY: 2140, sensX: 17, specY: 2586, legend: null },
  { letter: "I", roc: rocI, sub: "Female", box: [736, 1120, 2157, 2536], titleX: 1006, titleY: 2125, letterX: 692, letterY: 2140, sensX: 690, specY: 2586, legend: { x: 1237, y: 2199, step: 17.8, size: 13 } }
];

var svg = d3.select("#fig");

function drawPanel(p) {
  var left = p.box[0], right = p.box[1], top = p.box[2], bottom = p.box[3];
  var x = d3.scaleLinear().domain([0, 1]).range([left, right]);
  var y = d3.scaleLinear().domain([0, 1]).range([bottom, top]);
  var g = svg.append("g").attr("class", "panel-" + p.letter);

  // grid lines
  g.append("g")
    .attr("transform", "translate(0," + bottom + ")")
    .call(d3.axisBottom(x).tickValues(tickValues.slice(1)).tickSize(-(bottom - top)).tickFormat(""))
    .call(function(a) {
      a.select(".domain").remove();
      a.selectAll("line").attr("stroke", "#c6c6c6").attr("stroke-width", 1.3);
    });
  g.append("g")
    .attr("transform", "translate(" + left + ",0)")
    .call(d3.axisLeft(y).tickValues(tickValues.slice(1)).tickSize(-(right - left)).tickFormat(""))
    .call(function(a) {
      a.select(".domain").remove();
      a.selectAll("line").attr("stroke", "#c6c6c6").attr("stroke-width", 1.3);
    });

  // curves, drawn in legend order
  var line = d3.line().x(function(d) { return x(d[0]); }).y(function(d) { return y(d[1]); });
  seriesNames.forEach(function(name) {
    g.append("path")
      .datum(p.roc[name])
      .attr("d", line)
      .attr("fill", "none")
      .attr("stroke", colors[name])
      .attr("stroke-width", 1.4)
      .attr("stroke-linejoin", "round");
  });
  g.append("path")
    .datum(equality)
    .attr("d", line)
    .attr("fill", "none")
    .attr("stroke", colors["Line of equality"])
    .attr("stroke-width", 1.3);

  // axes
  var xAxis = g.append("g")
    .attr("transform", "translate(0," + bottom + ")")
    .call(d3.axisBottom(x).tickValues(tickValues).tickSize(0).tickPadding(7).tickFormat(d3.format(".1f")));
  var yAxis = g.append("g")
    .attr("transform", "translate(" + left + ",0)")
    .call(d3.axisLeft(y).tickValues(tickValues).tickSize(0).tickPadding(5).tickFormat(d3.format(".1f")));
  [xAxis, yAxis].forEach(function(a) {
    a.select(".domain").attr("stroke", "#111").attr("stroke-width", 1.5);
    a.selectAll("text").attr("font-size", 11).attr("fill", "#111")
      .attr("font-family", "'Liberation Sans', Arial, sans-serif");
  });

  // texts
  g.append("text")
    .attr("x", p.letterX).attr("y", p.letterY)
    .attr("font-size", 26).attr("font-weight", "bold").attr("fill", "#000")
    .text(p.letter);
  g.append("text")
    .attr("x", p.titleX).attr("y", p.titleY)
    .attr("text-anchor", "middle")
    .attr("font-size", 16).attr("font-weight", "bold").attr("fill", "#111")
    .text("ROC Curve");
  if (p.sub) {
    g.append("text")
      .attr("x", p.titleX).attr("y", p.titleY + 27)
      .attr("text-anchor", "middle")
      .attr("font-size", 14).attr("font-weight", "bold").attr("fill", "#111")
      .text(p.sub);
  }
  g.append("text")
    .attr("transform", "translate(" + p.sensX + "," + ((top + bottom) / 2) + ") rotate(-90)")
    .attr("text-anchor", "middle")
    .attr("dominant-baseline", "central")
    .attr("font-size", 16).attr("font-weight", "bold").attr("fill", "#111")
    .text("Sensitivity");
  g.append("text")
    .attr("x", (left + right) / 2).attr("y", p.specY)
    .attr("text-anchor", "middle")
    .attr("font-size", 16).attr("font-weight", "bold").attr("fill", "#111")
    .text("1 - Specificity");

  // legend
  if (p.legend) {
    var lg = g.append("g").attr("transform", "translate(" + p.legend.x + "," + p.legend.y + ")");
    var item = lg.selectAll("g").data(legendNames).enter().append("g")
      .attr("transform", function(d, i) { return "translate(0," + (i * p.legend.step) + ")"; });
    item.append("line")
      .attr("x1", 0).attr("x2", 26).attr("y1", 0).attr("y2", 0)
      .attr("stroke", function(d) { return colors[d]; })
      .attr("stroke-width", 1.6);
    item.append("text")
      .attr("x", 29).attr("y", 0)
      .attr("dominant-baseline", "central")
      .attr("font-size", p.legend.size).attr("fill", "#222")
      .text(function(d) { return d; });
  }
}

panels.forEach(drawPanel);
</script>
</body>
</html>
